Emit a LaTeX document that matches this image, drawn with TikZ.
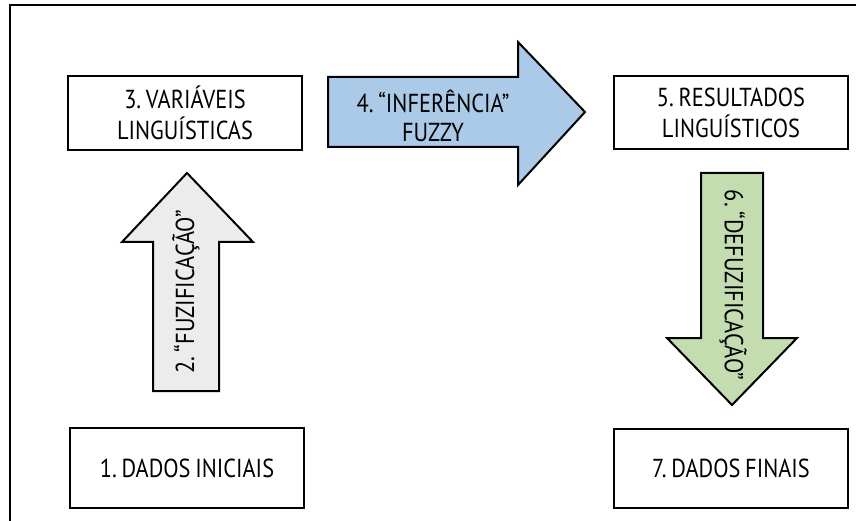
\documentclass[tikz,border=0pt]{standalone}
\usepackage{fontspec}
\setmainfont{PT Sans}[FakeStretch=0.86, WordSpace=0.8]
\frenchspacing
\usepackage{tikz}
\usetikzlibrary{positioning}
\definecolor{inferblue}{RGB}{170,202,232}
\definecolor{fuzgray}{RGB}{236,236,236}
\definecolor{defuzgreen}{RGB}{196,221,176}
\tikzset{
box/.style={draw, line width=2pt, minimum width=234pt, align=center, font=\fontsize{26}{31}\selectfont}, % the four white boxes
bigarrow/.style={draw, line width=2pt, line join=miter}, % outline of the thick block arrows
arrowtext/.style={align=center, inner sep=0pt, font=\fontsize{26}{29}\selectfont}, % labels written on the arrows
}

\begin{document}
\begin{tikzpicture}[x=1pt, y=-1pt]
    \useasboundingbox (0,0) rectangle (856,521);
    % open frame round the figure
    \draw[line width=2.5pt] (10,521) -- (10,5) -- (856,5);
    % boxes
    \node[box, minimum height=74pt] (var) at (185,113) {3. VARIÁVEIS\\LINGUÍSTICAS};
    \node[box, minimum height=73pt] (res) at (731,112.5) {5. RESULTADOS\\LINGUÍSTICOS};
    \node[box, minimum height=80pt] (ini) at (187,468) {1. DADOS INICIAIS};
    \node[box, minimum height=79pt] (fin) at (731,468.5) {7. DADOS FINAIS};
    % block arrows
    \draw[bigarrow, fill=fuzgray] (153,391) -- (153,242) -- (122,242) -- (187,173)
        -- (253,242) -- (219,242) -- (219,391) -- cycle;
    \draw[bigarrow, fill=inferblue] (328,77) -- (518,77) -- (518,42) -- (585,112)
        -- (518,185) -- (518,147) -- (328,147) -- cycle;
    \draw[bigarrow, fill=defuzgreen] (701,173) -- (763,173) -- (763,338) -- (797,338)
        -- (732,405) -- (667,338) -- (701,338) -- cycle;
    % arrow labels
    \node[arrowtext, rotate=90] (fuz) at (186,292) {2. “FUZIFICAÇÃO”};
    \node[arrowtext] (inf) at (433,115.5) {4. “INFERÊNCIA”\\FUZZY};
    \node[arrowtext, rotate=-90] (defuz) at (733,285) {6. “DEFUZIFICAÇÃO”};
\end{tikzpicture}
\end{document}
